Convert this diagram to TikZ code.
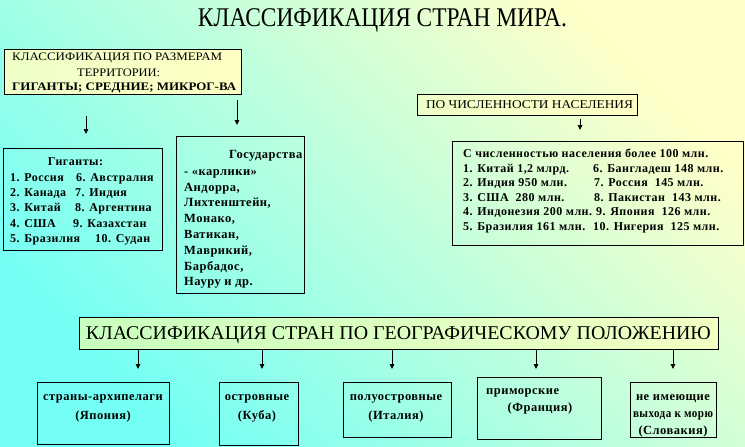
\documentclass[tikz,border=0pt]{standalone}
\usepackage{graphicx}
\usepackage{fontspec}
\setmainfont{Liberation Serif}
\newfontfamily\lsf[LetterSpace=4]{Liberation Serif}
\usetikzlibrary{arrows.meta}
\newcommand{\fitw}[2]{\resizebox{#1}{\height}{#2}}
\definecolor{bgcyan}{RGB}{115,255,245}
\definecolor{bgyellow}{RGB}{255,255,200}
\definecolor{boxyel}{RGB}{255,255,195}
\definecolor{boxyelg}{RGB}{238,255,200}
\definecolor{geoL}{RGB}{200,255,190}
\definecolor{geoR}{RGB}{242,255,195}
\tikzset{
  box/.style={draw=black, line width=0.9pt, inner sep=0pt},
  arr/.style={line width=0.9pt, -{Triangle[length=5pt,width=4.5pt]}},
  lbl/.style={inner sep=0pt, anchor=base},
  lblw/.style={inner sep=0pt, anchor=base west},
  reg/.style={font=\fontsize{#1}{#1}\selectfont},
  bld/.style={font=\lsf\bfseries\fontsize{#1}{#1}\selectfont},
}
\begin{document}
\begin{tikzpicture}[x=1pt,y=-1pt]
\shade[top color=bgyellow, bottom color=bgcyan, shading angle=-45] (0,0) rectangle (745,447);
\useasboundingbox (0,0) rectangle (745,447);

% title
\node[lbl, reg=27] (title) at (382.5,27) {\fitw{369pt}{КЛАССИФИКАЦИЯ СТРАН МИРА.}};

% size classification box
\node[box, left color=boxyelg, right color=boxyel, minimum width=237pt, minimum height=45pt] (size) at (122.5,71.5) {};
\node[lblw, reg=11.5] (s1) at (12,60) {\fitw{210pt}{КЛАССИФИКАЦИЯ ПО РАЗМЕРАМ}};
\node[lblw, reg=11.5] (s2) at (77,76) {\fitw{83pt}{ТЕРРИТОРИИ:}};
\node[lblw, font=\bfseries\fontsize{11.5}{11.5}\selectfont] (s3) at (12,90.5) {\fitw{224pt}{ГИГАНТЫ; СРЕДНИЕ; МИКРОГ-ВА}};

\coordinate (a1s) at (86,116); \coordinate (a1e) at (86,134);
\coordinate (a2s) at (237,100); \coordinate (a2e) at (237,125);
\draw[arr] (a1s) -- (a1e);
\draw[arr] (a2s) -- (a2e);

% giants
\node[box, minimum width=159pt, minimum height=102pt] (giants) at (82.5,199) {};
\node[lbl, bld=12] (gh) at (75.5,165) {Гиганты:};
\node[lblw, bld=12] (g1) at (10,181) {\makebox[66pt][l]{1. Россия}6. Австралия};
\node[lblw, bld=12] (g2) at (10,196.4) {\makebox[65pt][l]{2. Канада}7. Индия};
\node[lblw, bld=12] (g3) at (10,211.8) {\makebox[65pt][l]{3. Китай}8. Аргентина};
\node[lblw, bld=12] (g4) at (10,227.2) {\makebox[63pt][l]{4. США}9. Казахстан};
\node[lblw, bld=12] (g5) at (10,242.6) {\makebox[85pt][l]{5. Бразилия}10. Судан};

% dwarfs
\node[box, minimum width=128pt, minimum height=157pt] (dwarfs) at (240,214.5) {};
\node[lblw, bld=12.5] (dh) at (229,158.3) {Государства};
\node[lblw, bld=12.5] (d0) at (184,175.3) {- «карлики»};
\node[lblw, bld=12.5] (d1) at (184,191.1) {Андорра,};
\node[lblw, bld=12.5] (d2) at (184,206.9) {Лихтенштейн,};
\node[lblw, bld=12.5] (d3) at (184,222.7) {Монако,};
\node[lblw, bld=12.5] (d4) at (184,238.5) {Ватикан,};
\node[lblw, bld=12.5] (d5) at (184,254.3) {Маврикий,};
\node[lblw, bld=12.5] (d6) at (184,270.1) {Барбадос,};
\node[lblw, bld=12.5] (d7) at (184,285.9) {Науру и др.};

% population header
\node[box, left color=boxyelg, right color=boxyel, minimum width=220pt, minimum height=21pt] (pophead) at (527,104.5) {};
\node[lbl, reg=12] (ph) at (529.5,108.5) {\fitw{207pt}{ПО ЧИСЛЕННОСТИ НАСЕЛЕНИЯ}};
\coordinate (a3s) at (580,119); \coordinate (a3e) at (580,130);
\draw[arr] (a3s) -- (a3e);

% population list
\node[box, minimum width=291pt, minimum height=104pt] (poplist) at (597.5,193) {};
\node[lblw, bld=12] (p0) at (463,157.5) {С численностью населения более 100 млн.};
\node[lblw, bld=12] (p1) at (463,172) {\makebox[130pt][l]{1. Китай 1,2 млрд.}6. Бангладеш 148 млн.};
\node[lblw, bld=12] (p2) at (463,186.5) {\makebox[131pt][l]{2. Индия 950 млн.}7. Россия~ 145 млн.};
\node[lblw, bld=12] (p3) at (463,201) {\makebox[131pt][l]{3. США~ 280 млн.}8. Пакистан~ 143 млн.};
\node[lblw, bld=12] (p4) at (463,215.5) {\makebox[133pt][l]{4. Индонезия 200 млн.}9. Япония~ 126 млн.};
\node[lblw, bld=12] (p5) at (463,230) {\makebox[130pt][l]{5. Бразилия 161 млн.}10. Нигерия~ 125 млн.};

% geographic header
\node[box, left color=geoL, right color=geoR, minimum width=639pt, minimum height=32pt] (geo) at (398.5,333) {};
\node[lbl, reg=19.5] (gt) at (398.5,339.5) {\fitw{625pt}{КЛАССИФИКАЦИЯ СТРАН ПО ГЕОГРАФИЧЕСКОМУ ПОЛОЖЕНИЮ}};

\coordinate (e1) at (138,369);
\coordinate (e2) at (262,369);
\coordinate (e3) at (392,369);
\coordinate (e4) at (536,369);
\coordinate (e5) at (673,369);
\foreach \e in {e1,e2,e3,e4,e5} \draw[arr] (\e |- geo.south) -- (\e);

% bottom boxes
\node[box, minimum width=132pt, minimum height=62pt] (b1) at (103,413) {};
\node[lbl, bld=12.5] (b1a) at (103,400) {страны-архипелаги};
\node[lbl, bld=12.5] (b1b) at (103,419) {(Япония)};

\node[box, minimum width=79pt, minimum height=63pt] (b2) at (258.5,413.5) {};
\node[lbl, bld=12.5] (b2a) at (257,400) {островные};
\node[lbl, bld=12.5] (b2b) at (257,419) {(Куба)};

\node[box, minimum width=108pt, minimum height=55pt] (b3) at (397,409.5) {};
\node[lbl, bld=12.5] (b3a) at (396,400) {полуостровные};
\node[lbl, bld=12.5] (b3b) at (396,419) {(Италия)};

\node[box, minimum width=124pt, minimum height=62pt] (b4) at (539,408) {};
\node[lblw, bld=12.5] (b4a) at (486,394) {приморские};
\node[lbl, bld=12.5] (b4b) at (540,411) {(Франция)};

\node[box, minimum width=86pt, minimum height=55pt] (b5) at (673,409.5) {};
\node[lbl, bld=12.5] (b5a) at (673,400) {не имеющие};
\node[lbl, bld=12.5] (b5b) at (673,417) {\fitw{80pt}{выхода к морю}};
\node[lbl, bld=12.5] (b5c) at (673,434) {(Словакия)};
\end{tikzpicture}
\end{document}
